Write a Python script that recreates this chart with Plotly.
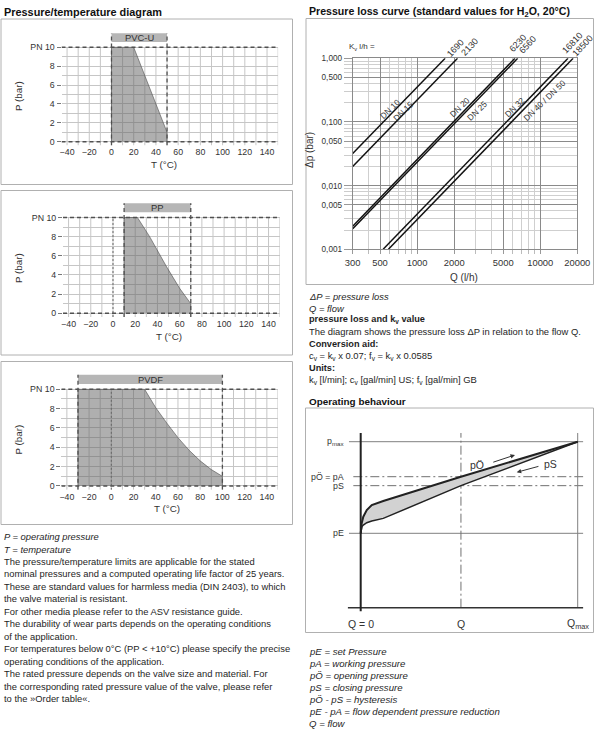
import math
import plotly.graph_objects as go

W, H = 600, 739

# ---------------- data: pressure / temperature diagrams ----------------
MATERIALS = ["PVC-U", "PP", "PVDF"]
PVCU_T = [0, 0, 20, 50, 50]
PVCU_P = [0, 10, 10, 1, 0]
PP_T = [10, 10, 22, 33, 48, 60, 70, 70]
PP_P = [0, 10, 10, 8, 4.9, 2.6, 1, 0]
PVDF_T = [-30, -30, 30, 40, 50, 60, 70, 80, 90, 100, 100]
PVDF_P = [0, 10, 10, 8.1, 6.5, 5.0, 3.7, 2.6, 1.7, 1.0, 0]
T_MIN = [0, 10, -30]
T_MAX = [50, 70, 100]
PN = 10
T_RANGE = [-45, 150]
P_RANGE = [-0.4, 11.6]
T_TICKS = [-40, -20, 0, 20, 40, 60, 80, 100, 120, 140]
T_GRID = [-40, -30, -20, -10, 0, 10, 20, 30, 40, 50, 60, 70, 80, 90, 100, 110, 120, 130, 140, 150]
P_TICKS = [0, 2, 4, 6, 8, 10]
P_TICKTEXT = ["0", "2", "4", "6", "8", "PN 10"]
P_MINOR = [1, 3, 5, 7, 9]
BAR_P = [10.55, 11.5]

# ---------------- data: pressure loss curves ----------------
KV = [1690, 2130, 6230, 6560, 16810, 18500]
Q_START = [300, 300, 300, 300, 530, 585]
DP_START = [0.032, 0.020, 0.0023, 0.0021, 0.001, 0.001]
Q_END = [1690, 2130, 6230, 6560, 16810, 18500]
DP_END = [1, 1, 1, 1, 1, 1]
DN_LABELS = ["DN 10", "DN 15", "DN 20", "DN 25", "DN 32", "DN 40 / DN 50"]
DN_Q = [603, 773, 2232, 3051, 6243, 10910]
DN_DP = [0.160, 0.150, 0.169, 0.150, 0.169, 0.221]
Q_TICKS = [300, 500, 1000, 2000, 5000, 10000, 20000]
Q_MINOR = [400, 600, 700, 800, 900, 3000, 4000, 6000, 7000, 8000, 9000]
DP_TICKS = [1, 0.5, 0.1, 0.05, 0.01, 0.005, 0.001]
DP_TICKTEXT = ["1,000", "0,500", "0,100", "0,050", "0,010", "0,005", "0,001"]
DP_MINOR = [0.9, 0.8, 0.7, 0.6, 0.4, 0.3, 0.2,
            0.09, 0.08, 0.07, 0.06, 0.04, 0.03, 0.02,
            0.009, 0.008, 0.007, 0.006, 0.004, 0.003, 0.002]

# ---------------- data: operating behaviour (schematic) ----------------
OPEN_Q = [0, 0.045, 0.12, 0.28, 0.51, 1.04, 4.62, 10]
OPEN_P = [0, 1.09, 1.81, 2.54, 3.09, 3.53, 6.18, 10]
CLOSE_Q = [0, 0.06, 0.12, 0.28, 0.51, 1.04, 4.62, 10]
CLOSE_P = [0, 0.73, 0.9, 1.16, 1.34, 1.63, 5.2, 10]
P_E, P_S, P_A, P_MAX = 0, 5.2, 6.18, 10
Q_ZERO, Q_OP, Q_MAX = 0, 4.62, 10
OB_BOTTOM = -8.12
OB_TOP = 10.95
OB_LEFT = -0.54
OB_RIGHT = 10.25

# ---------------- texts ----------------
LEFT_TEXT = [
    "<i>P = operating pressure</i>",
    "<i>T = temperature</i>",
    "The pressure/temperature limits are applicable for the stated",
    "nominal pressures and a computed operating life factor of 25 years.",
    "These are standard values for harmless media (DIN 2403), to which",
    "the valve material is resistant.",
    "For other media please refer to the ASV resistance guide.",
    "The durability of wear parts depends on the operating conditions",
    "of the application.",
    "For temperatures below 0°C (PP < +10°C) please specify the precise",
    "operating conditions of the application.",
    "The rated pressure depends on the valve size and material. For",
    "the corresponding rated pressure value of the valve, please refer",
    "to the »Order table«.",
]
RIGHT_TEXT = [
    "<i>ΔP = pressure loss</i>",
    "<i>Q = flow</i>",
    "<b>pressure loss and k<sub>v</sub> value</b>",
    "The diagram shows the pressure loss ΔP in relation to the flow Q.",
    "<b>Conversion aid:</b>",
    "c<sub>v</sub> = k<sub>v</sub> x 0.07; f<sub>v</sub> = k<sub>v</sub> x 0.0585",
    "<b>Units:</b>",
    "k<sub>v</sub> [l/min]; c<sub>v</sub> [gal/min] US; f<sub>v</sub> [gal/min] GB",
]
LEGEND_TEXT = [
    "<i>pE = set Pressure</i>",
    "<i>pA = working pressure</i>",
    "<i>pÖ = opening pressure</i>",
    "<i>pS = closing pressure</i>",
    "<i>pÖ - pS = hysteresis</i>",
    "<i>pE - pA = flow dependent pressure reduction</i>",
    "<i>Q = flow</i>",
]

FONT = "Liberation Sans, Arial, Helvetica, sans-serif"
TXT = "#1e1e1e"
CH = "#333333"


def px(x):
    return x / W


def py(y):
    return 1 - y / H


def note(**kw):
    kw.setdefault("xanchor", "center")
    kw.setdefault("yanchor", "middle")
    kw.setdefault("showarrow", False)
    annotations.append(kw)


fig = go.Figure()
layout = dict(
    width=W, height=H, margin=dict(l=0, r=0, t=0, b=0, pad=0, autoexpand=False),
    paper_bgcolor="white", plot_bgcolor="rgba(0,0,0,0)",
    showlegend=False, font=dict(family=FONT, color=TXT),
)
annotations = []
shapes = []

# ---------------- pressure/temperature charts ----------------
PT_T = [PVCU_T, PP_T, PVDF_T]
PT_P = [PVCU_P, PP_P, PVDF_P]
ZERO_X = [111.5, 113.0, 111.3]
Y0 = [141.7, 313.2, 486.0]
Y10 = [47.3, 217.5, 389.3]
DEG = 1.111
TITLE_T = [(163.5, 164.5), (168.5, 336.5), (167, 508.5)]
TITLE_P = [(18.5, 96.5), (18.5, 268.5), (18.5, 440)]

for i in range(3):
    n = "" if i == 0 else str(i + 1)
    xa, ya = "x" + n, "y" + n
    s = (Y0[i] - Y10[i]) / PN
    left = ZERO_X[i] + T_RANGE[0] * DEG
    right = ZERO_X[i] + T_RANGE[1] * DEG
    top = Y0[i] - P_RANGE[1] * s
    bot = Y0[i] - P_RANGE[0] * s
    layout["xaxis" + n] = dict(
        domain=[px(left), px(right)], range=T_RANGE, anchor=ya, automargin=False,
        tickvals=T_TICKS, ticks="", showgrid=False, zeroline=False, showline=False,
        tickfont=dict(family=FONT, size=8.8, color=CH), fixedrange=True,
    )
    layout["yaxis" + n] = dict(
        domain=[py(bot), py(top)], range=P_RANGE, anchor=xa, automargin=False,
        tickvals=P_TICKS, ticktext=P_TICKTEXT, ticks="outside", ticklen=4,
        tickcolor="#777", tickwidth=1,
        showgrid=True, gridcolor="#c6c6c6", gridwidth=1, zeroline=False, showline=False,
        minor=dict(tickvals=P_MINOR, showgrid=True, gridcolor="#c6c6c6", gridwidth=1),
        tickfont=dict(family=FONT, size=8.8, color=CH), fixedrange=True,
    )
    gx, gy = [], []
    for t in T_GRID:
        gx += [t, t, None]
        gy += [P_RANGE[0], PN, None]
    fig.add_trace(go.Scatter(x=gx, y=gy, xaxis=xa, yaxis=ya, mode="lines",
                             line=dict(color="#c6c6c6", width=1), hoverinfo="skip"))
    fig.add_trace(go.Scatter(x=PT_T[i], y=PT_P[i], xaxis=xa, yaxis=ya, mode="lines",
                             fill="toself", fillcolor="rgba(95,95,95,0.5)",
                             line=dict(color="rgba(70,70,70,0.7)", width=0.8), hoverinfo="skip"))
    if T_MIN[i] != 0:
        fig.add_trace(go.Scatter(x=[0, 0], y=[P_RANGE[0], PN], xaxis=xa, yaxis=ya, mode="lines",
                                 line=dict(color="#666", width=1, dash="2px,2px"), hoverinfo="skip"))
    fig.add_trace(go.Scatter(
        x=[T_MIN[i], T_MAX[i], T_MAX[i], T_MIN[i], T_MIN[i]],
        y=[BAR_P[0], BAR_P[0], BAR_P[1], BAR_P[1], BAR_P[0]],
        xaxis=xa, yaxis=ya, mode="lines", fill="toself", fillcolor="#b6b6b6",
        line=dict(width=0, color="#b6b6b6"), hoverinfo="skip"))
    fig.add_trace(go.Scatter(x=[T_RANGE[0], T_RANGE[1], None, T_RANGE[0], T_RANGE[1]],
                             y=[0, 0, None, PN, PN], xaxis=xa, yaxis=ya, mode="lines",
                             line=dict(color="#505050", width=1.5, dash="4px,3px"), hoverinfo="skip"))
    fig.add_trace(go.Scatter(x=[T_MIN[i], T_MIN[i], None, T_MAX[i], T_MAX[i]],
                             y=[P_RANGE[0], BAR_P[1], None, P_RANGE[0], BAR_P[1]],
                             xaxis=xa, yaxis=ya, mode="lines",
                             line=dict(color="#505050", width=1.3, dash="4px,3px"), hoverinfo="skip"))
    note(x=(T_MIN[i] + T_MAX[i]) / 2, y=sum(BAR_P) / 2, xref=xa, yref=ya,
         text=MATERIALS[i], font=dict(family=FONT, size=9.4, color=CH))
    note(x=px(TITLE_T[i][0]), y=py(TITLE_T[i][1]), xref="paper", yref="paper",
         text="T (°C)", font=dict(family=FONT, size=9.8, color=CH))
    note(x=px(TITLE_P[i][0]), y=py(TITLE_P[i][1]), xref="paper", yref="paper",
         text="P (bar)", textangle=-90, font=dict(family=FONT, size=9.8, color=CH))

# ---------------- pressure loss chart ----------------
layout["xaxis4"] = dict(
    type="log", domain=[px(352.7), px(577.3)], range=[math.log10(300), math.log10(20000)],
    anchor="y4", automargin=False, tickvals=Q_TICKS, ticktext=[str(v) for v in Q_TICKS],
    ticks="outside", ticklen=4, tickcolor="#999",
    showgrid=True, gridcolor="#8a8a8a", gridwidth=1, zeroline=False,
    showline=True, mirror=True, linecolor="#8a8a8a", linewidth=1,
    minor=dict(tickvals=Q_MINOR, showgrid=True, gridcolor="#cfcfcf", gridwidth=1,
               ticks="outside", ticklen=4, tickcolor="#bbb"),
    tickfont=dict(family=FONT, size=9.4, color=CH), fixedrange=True,
)
layout["yaxis4"] = dict(
    type="log", domain=[py(249.3), py(58.3)], range=[-3, 0], anchor="x4", automargin=False,
    tickvals=DP_TICKS, ticktext=DP_TICKTEXT, ticks="outside", ticklen=8, tickcolor="#999",
    showgrid=True, gridcolor="#8a8a8a", gridwidth=1, zeroline=False,
    showline=True, mirror=True, linecolor="#8a8a8a", linewidth=1,
    minor=dict(tickvals=DP_MINOR, showgrid=True, gridcolor="#cfcfcf", gridwidth=1,
               ticks="outside", ticklen=8, tickcolor="#ccc"),
    tickfont=dict(family=FONT, size=8.2, color=CH), fixedrange=True,
)
for k in range(len(KV)):
    fig.add_trace(go.Scatter(x=[Q_START[k], Q_END[k]], y=[DP_START[k], DP_END[k]],
                             xaxis="x4", yaxis="y4", mode="lines",
                             line=dict(color="#111", width=1.5), hoverinfo="skip"))
KV_LABEL_PX = [(455.3, 47.7), (469.7, 47.3), (518, 43.3), (527.5, 45.3), (572.3, 43), (582.3, 45.7)]
for k in range(len(KV)):
    note(x=px(KV_LABEL_PX[k][0]), y=py(KV_LABEL_PX[k][1]), xref="paper", yref="paper",
         text=str(KV[k]), textangle=-47, font=dict(family=FONT, size=9, color=CH))
for k in range(len(DN_LABELS)):
    note(x=math.log10(DN_Q[k]), y=math.log10(DN_DP[k]), xref="x4", yref="y4",
         text=DN_LABELS[k], textangle=-44, font=dict(family=FONT, size=8.4, color=CH))
note(x=px(346.5), y=py(46.7), xref="paper", yref="paper", xanchor="left",
     text="K<sub>v</sub> l/h =", font=dict(family=FONT, size=8, color=CH))
note(x=px(309), y=py(150), xref="paper", yref="paper",
     text="Δp (bar)", textangle=-90, font=dict(family=FONT, size=10, color=CH))
note(x=px(463.5), y=py(277), xref="paper", yref="paper",
     text="Q (l/h)", font=dict(family=FONT, size=10, color=CH))

# ---------------- operating behaviour ----------------
OBX = (360.7, 21.7)
OBY = (533.3, 9.16)
OB_XR = [-2.8, 10.4]
OB_YR = [-11, 11.5]
layout["xaxis5"] = dict(domain=[px(OBX[0] + OB_XR[0] * OBX[1]), px(OBX[0] + OB_XR[1] * OBX[1])],
                        range=OB_XR, anchor="y5", visible=False, fixedrange=True, automargin=False)
layout["yaxis5"] = dict(domain=[py(OBY[0] - OB_YR[0] * OBY[1]), py(OBY[0] - OB_YR[1] * OBY[1])],
                        range=OB_YR, anchor="x5", visible=False, fixedrange=True, automargin=False)


def ob_line(x, y, color, width, dash="solid"):
    fig.add_trace(go.Scatter(x=x, y=y, xaxis="x5", yaxis="y5", mode="lines",
                             line=dict(color=color, width=width, dash=dash), hoverinfo="skip"))


DD = "9px,3px,2px,3px"
ob_line([OB_LEFT, OB_RIGHT], [P_MAX, P_MAX], "#808080", 1)
ob_line([OB_LEFT, OB_RIGHT], [P_E, P_E], "#808080", 1)
ob_line([-0.34, OB_RIGHT], [P_A, P_A], "#707070", 1, DD)
ob_line([-0.34, OB_RIGHT], [P_S, P_S], "#707070", 1, DD)
ob_line([Q_OP, Q_OP], [OB_BOTTOM, OB_TOP], "#707070", 1, DD)
ob_line([Q_MAX, Q_MAX], [OB_BOTTOM, OB_TOP], "#808080", 1)
ob_line([OB_LEFT - 0.05, OB_RIGHT], [OB_BOTTOM, OB_BOTTOM], "#333", 1.5)
ob_line([Q_ZERO, Q_ZERO], [OB_BOTTOM - 0.4, OB_TOP], "#222", 2)
fig.add_trace(go.Scatter(x=CLOSE_Q, y=CLOSE_P, xaxis="x5", yaxis="y5", mode="lines",
                         line=dict(color="#222", width=1.5), hoverinfo="skip"))
fig.add_trace(go.Scatter(x=OPEN_Q, y=OPEN_P, xaxis="x5", yaxis="y5", mode="lines",
                         fill="tonexty", fillcolor="#d2d2d2",
                         line=dict(color="#222", width=2), hoverinfo="skip"))

for txt, yv in [("p<sub>max</sub>", P_MAX), ("pÖ = pA", P_A), ("pS", P_S), ("pE", P_E)]:
    note(x=-0.66, y=yv, xref="x5", yref="y5", xanchor="right",
         text=txt, font=dict(family=FONT, size=8.8, color=CH))
for txt, xv in [("Q = 0", Q_ZERO), ("Q", Q_OP), ("Q<sub>max</sub>", Q_MAX)]:
    note(x=xv, y=-9.95, xref="x5", yref="y5",
         text=txt, font=dict(family=FONT, size=10.5, color=CH))
note(x=5.35, y=7.5, xref="x5", yref="y5", text="pÖ", font=dict(family=FONT, size=10.5, color=CH))
note(x=8.75, y=7.55, xref="x5", yref="y5", text="pS", font=dict(family=FONT, size=10.5, color=CH))
for (hx, hy, tx, ty) in [(7.11, 8.55, 6.04, 7.71), (7.19, 6.66, 8.26, 7.35)]:
    annotations.append(dict(x=hx, y=hy, ax=tx, ay=ty, xref="x5", yref="y5", axref="x5", ayref="y5",
                            text="", showarrow=True, arrowhead=2, arrowsize=0.9, arrowwidth=1,
                            arrowcolor="#333", standoff=0, startstandoff=0))

# ---------------- boxes ----------------
BOXES = [(1, 19, 292.5, 184.5), (1, 190.5, 292.5, 355), (1, 361.5, 292.5, 524.5),
         (306, 18.5, 593.5, 284.5), (305.5, 408, 593.5, 632.5)]
for (x0, y0, x1, y1) in BOXES:
    shapes.append(dict(type="rect", xref="paper", yref="paper", x0=px(x0), x1=px(x1),
                       y0=py(y1), y1=py(y0), line=dict(color="#b0b0b0", width=1), layer="below"))

# ---------------- headings and body text ----------------
for txt, x, y, sz in [("Pressure/temperature diagram", 1.5, 11.5, 10.9),
                      ("Pressure loss curve (standard values for H<sub>2</sub>O, 20°C)", 306.5, 12.3, 10.6),
                      ("Operating behaviour", 306.5, 401, 9.9)]:
    note(x=px(x), y=py(y), xref="paper", yref="paper", xanchor="left",
         text="<b>" + txt + "</b>", font=dict(family=FONT, size=sz, color="#111"))
for i, t in enumerate(LEFT_TEXT):
    note(x=px(1.5), y=py(536.6 + i * 12.45), xref="paper", yref="paper", xanchor="left",
         text=t, font=dict(family=FONT, size=9.4, color=TXT))
for i, t in enumerate(RIGHT_TEXT):
    note(x=px(306.5), y=py(296 + i * 12.0), xref="paper", yref="paper", xanchor="left",
         text=t, font=dict(family=FONT, size=9.2 if "<b>" in t else 9.4, color=TXT))
for i, t in enumerate(LEGEND_TEXT):
    note(x=px(306.5), y=py(651.8 + i * 11.93), xref="paper", yref="paper", xanchor="left",
         text=t, font=dict(family=FONT, size=9.6, color=TXT))

layout["annotations"] = annotations
layout["shapes"] = shapes
fig.update_layout(**layout)
fig.write_html("out.html", config={"displayModeBar": False, "staticPlot": True},
               post_script="document.body.style.margin='0px';document.body.style.overflow='hidden';")
